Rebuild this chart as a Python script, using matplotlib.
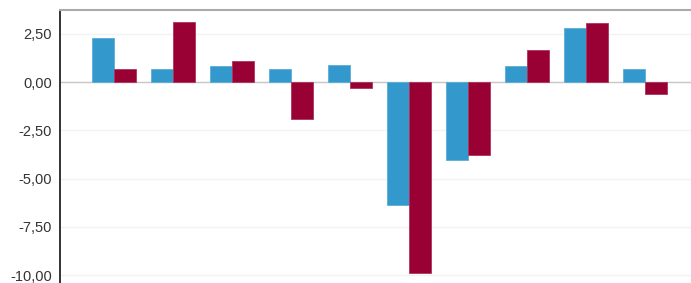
import matplotlib
matplotlib.use('Agg')
from matplotlib import pyplot as plt
from matplotlib import ticker
import numpy as np

plt.rcParams['font.family'] = ['Liberation Sans', 'DejaVu Sans']

# values, one pair per group
series_a = [2.28, 0.67, 0.85, 0.67, 0.88, -6.37, -4.04, 0.85, 2.78, 0.67]
series_b = [0.67, 3.10, 1.09, -1.92, -0.31, -9.88, -3.78, 1.67, 3.04, -0.62]
y_ticks = [2.5, 0.0, -2.5, -5.0, -7.5, -10.0]

x = np.arange(len(series_a))
w = 0.37

fig = plt.figure(figsize=(6.91, 2.83), dpi=100)
ax = fig.add_axes([60 / 691, 0, 1 - 60 / 691, 273 / 283])

ax.bar(x - w / 2, series_a, w, color='#3399cc', edgecolor='#5aaed8', linewidth=0.6, zorder=3)
ax.bar(x + w / 2, series_b, w, color='#990033', edgecolor='#b0335a', linewidth=0.6, zorder=3)

ax.set_xlim(-0.915, 9.78)
ax.set_ylim(-10.41, 3.73)
ax.set_xticks([])
ax.set_yticks(y_ticks)
ax.yaxis.set_major_formatter(ticker.FuncFormatter(lambda v, p: f'{v:.2f}'.replace('.', ',')))
ax.tick_params(axis='y', length=0, pad=6, labelsize=10.5, labelcolor='#333333')

ax.grid(axis='y', color='#f3f3f3', linewidth=1, zorder=0)
ax.axhline(0, color='#c8c8c8', linewidth=1, zorder=2)

ax.spines['right'].set_visible(False)
ax.spines['bottom'].set_visible(False)
ax.spines['top'].set_color('#aaaaaa')
ax.spines['top'].set_linewidth(1.5)
ax.spines['left'].set_color('#111111')
ax.spines['left'].set_linewidth(1.2)

fig.savefig('out.png', dpi=100)
